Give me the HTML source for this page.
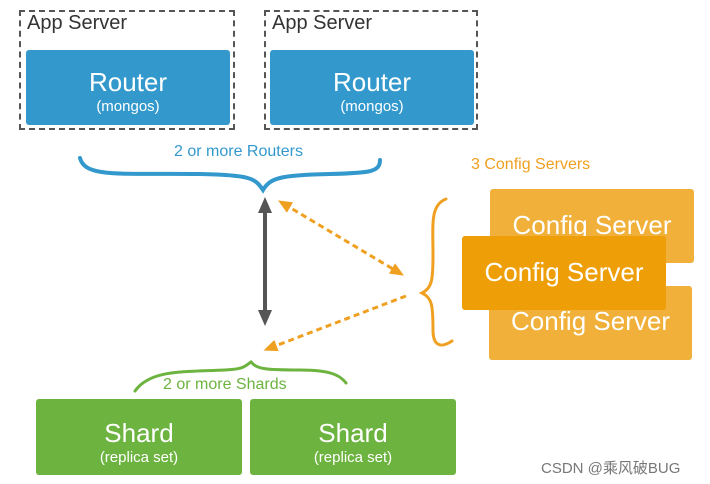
<!DOCTYPE html><html><head><style>
body{margin:0;width:710px;height:484px;background:#fff;overflow:hidden;font-family:"Liberation Sans","Noto Sans CJK SC",sans-serif;position:relative}
.a{position:absolute;box-sizing:border-box}
.dash{border:2px dashed #555}
.lab{font-size:20px;color:#333;left:6px;top:0;position:absolute}
.r{background:#3399cc;color:#fff;text-align:center;border-radius:3px}
.big{font-size:26px;line-height:30px}
.sm{font-size:15px;line-height:20px}
.c{color:#fff;font-size:26px;text-align:center;border-radius:3px}
.g{background:#6cb33f;color:#fff;text-align:center;border-radius:3px}
</style></head><body>
<div class="a dash" style="left:19px;top:10px;width:216px;height:120px"><span class="lab">App Server</span></div>
<div class="a dash" style="left:264px;top:10px;width:214px;height:120px"><span class="lab">App Server</span></div>
<div class="a r" style="left:26px;top:50px;width:204px;height:75px;padding-top:17px"><div class="big">Router</div><div class="sm">(mongos)</div></div>
<div class="a r" style="left:270px;top:50px;width:204px;height:75px;padding-top:17px"><div class="big">Router</div><div class="sm">(mongos)</div></div>
<div class="a" style="left:174px;top:143px;font-size:16px;color:#3399cc">2 or more Routers</div>
<div class="a" style="left:471px;top:156px;font-size:16px;color:#f0a020">3 Config Servers</div>
<div class="a c" style="left:490px;top:189px;width:204px;height:74px;background:#f0b03a;padding-top:21px;line-height:30px">Config Server</div>
<div class="a c" style="left:489px;top:286px;width:203px;height:74px;background:#f0b03a;padding-top:20px;line-height:30px">Config Server</div>
<div class="a c" style="left:462px;top:236px;width:204px;height:74px;background:#ee9f08;padding-top:21px;line-height:30px">Config Server</div>
<div class="a" style="left:163px;top:376px;font-size:16px;color:#6cb33f">2 or more Shards</div>
<div class="a g" style="left:36px;top:399px;width:206px;height:76px;padding-top:19px"><div class="big">Shard</div><div class="sm">(replica set)</div></div>
<div class="a g" style="left:250px;top:399px;width:206px;height:76px;padding-top:19px"><div class="big">Shard</div><div class="sm">(replica set)</div></div>
<div class="a" style="left:541px;top:457px;font-size:15px;color:#777">CSDN @乘风破BUG</div>
<svg class="a" style="left:0;top:0" width="710" height="484">
<defs>
<marker id="go" markerUnits="userSpaceOnUse" markerWidth="16" markerHeight="16" refX="8" refY="8" orient="auto-start-reverse"><path d="M0,1L16,8L0,15z" fill="#555"/></marker>
<marker id="oo" markerUnits="userSpaceOnUse" markerWidth="14" markerHeight="14" refX="7" refY="7" orient="auto-start-reverse"><path d="M0,1L14,7L0,13z" fill="#f0a020"/></marker>
</defs>
<path d="M80,158 C85,178 120,173 200,174 C250,175 255,178 263,190 C270,178 280,175 330,174 C370,173 380,172 380,160" fill="none" stroke="#3399cc" stroke-width="4" stroke-linecap="round"/>
<line x1="265" y1="205" x2="265" y2="318" stroke="#555" stroke-width="4" marker-start="url(#go)" marker-end="url(#go)"/>
<line x1="284" y1="204" x2="398" y2="272" stroke="#f0a020" stroke-width="3" stroke-dasharray="6,4" marker-start="url(#oo)" marker-end="url(#oo)"/>
<line x1="406" y1="296" x2="270" y2="348" stroke="#f0a020" stroke-width="3" stroke-dasharray="6,4" marker-end="url(#oo)"/>
<path d="M446,199 C430,205 433,225 433,255 C433,280 432,288 422,293 C432,298 433,305 433,330 C433,345 440,349 452,341" fill="none" stroke="#f0a020" stroke-width="3" stroke-linecap="round"/>
<path d="M135,391 C150,370 180,372 225,370 C245,369 245,366 251,362 C257,369 265,370 300,370 C330,370 340,375 346,383" fill="none" stroke="#6cb33f" stroke-width="3" stroke-linecap="round"/>
</svg>
</body></html>
